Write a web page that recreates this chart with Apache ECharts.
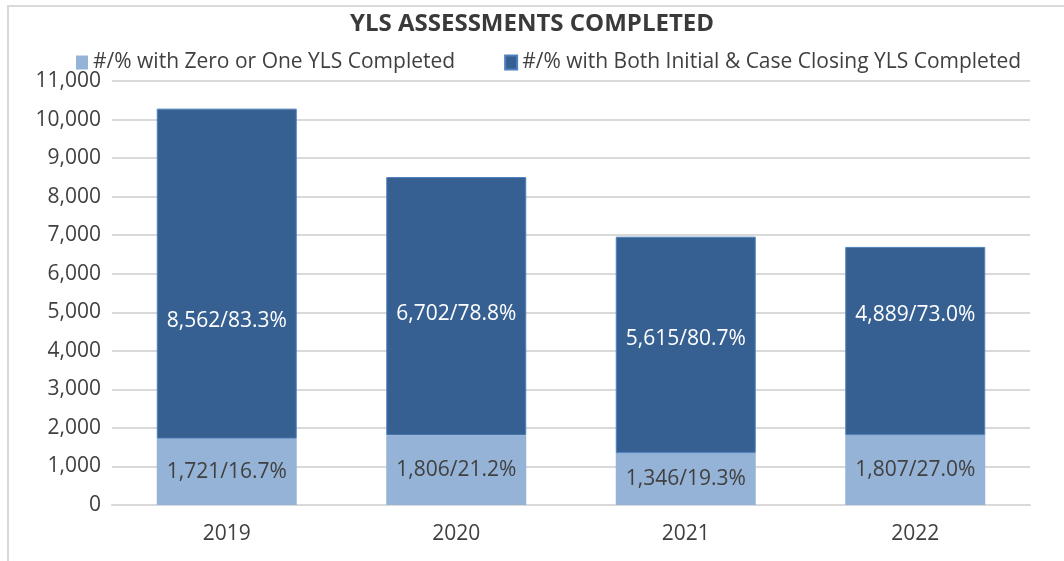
<!DOCTYPE html>
<html>
<head>
<meta charset="utf-8">
<script src="https://cdn.jsdelivr.net/npm/echarts@6/dist/echarts.min.js"></script>
<style>
  html, body { margin: 0; padding: 0; background: #fff; }
  #chart { width: 1064px; height: 561px; }
</style>
</head>
<body>
<div id="chart"></div>
<script>
// chart data
var years = ['2019', '2020', '2021', '2022'];
var zeroOrOne = [1721, 1806, 1346, 1807];
var zeroOrOnePct = ['16.7%', '21.2%', '19.3%', '27.0%'];
var bothDone = [8562, 6702, 5615, 4889];
var bothDonePct = ['83.3%', '78.8%', '80.7%', '73.0%'];
// label nudges (px) for the dark segment, as placed in the original
var bothLabelShift = [47, 8, -6, -26];

var fontName = '"Open Sans", sans-serif';

function fmt(n) {
    return n.toLocaleString('en-US');
}

var lightData = [];
var darkData = [];
for (var i = 0; i < years.length; i++) {
    lightData.push({
        value: zeroOrOne[i],
        label: { formatter: fmt(zeroOrOne[i]) + '/' + zeroOrOnePct[i] }
    });
    darkData.push({
        value: bothDone[i],
        label: { formatter: fmt(bothDone[i]) + '/' + bothDonePct[i], offset: [0, bothLabelShift[i]] }
    });
}

var chart = echarts.init(document.getElementById('chart'));

var option = {
    animation: false,
    textStyle: { fontFamily: fontName },
    title: {
        text: 'YLS ASSESSMENTS COMPLETED',
        left: 'center',
        top: 7,
        textStyle: { fontSize: 24, fontWeight: 'bold', color: '#3a3a3a', fontFamily: fontName }
    },
    legend: {
        top: 47,
        left: 71,
        icon: 'rect',
        itemWidth: 12,
        itemHeight: 14,
        itemGap: 49,
        textStyle: { fontSize: 21, color: '#404040', fontFamily: fontName },
        data: ['#/% with Zero or One YLS Completed', '#/% with Both Initial & Case Closing YLS Completed']
    },
    grid: { left: 112, right: 34, top: 81, bottom: 56 },
    xAxis: {
        type: 'category',
        data: years,
        axisTick: { show: false },
        axisLine: { lineStyle: { color: '#d9d9d9', width: 2 } },
        axisLabel: { fontSize: 21, color: '#404040', margin: 19 }
    },
    yAxis: {
        type: 'value',
        min: 0,
        max: 11000,
        interval: 1000,
        axisLabel: {
            fontSize: 21,
            color: '#404040',
            margin: 11,
            formatter: function (v) { return fmt(v); }
        },
        splitLine: { lineStyle: { color: '#d9d9d9', width: 2 } }
    },
    series: [
        {
            name: '#/% with Zero or One YLS Completed',
            type: 'bar',
            stack: 'total',
            barWidth: '61%',
            itemStyle: { color: '#95b3d7' },
            label: { show: true, position: 'inside', fontSize: 21, color: '#404040' },
            data: lightData
        },
        {
            name: '#/% with Both Initial & Case Closing YLS Completed',
            type: 'bar',
            stack: 'total',
            barWidth: '61%',
            itemStyle: { color: '#366092', borderColor: '#4f81bd', borderWidth: 1 },
            label: { show: true, position: 'inside', fontSize: 21, color: '#ffffff' },
            data: darkData
        }
    ],
    graphic: [
        {
            type: 'polyline',
            shape: { points: [[8, 561], [8, 6], [1064, 6]] },
            style: { stroke: '#d9d9d9', lineWidth: 2, fill: null },
            silent: true
        }
    ]
};

chart.setOption(option);
</script>
</body>
</html>
